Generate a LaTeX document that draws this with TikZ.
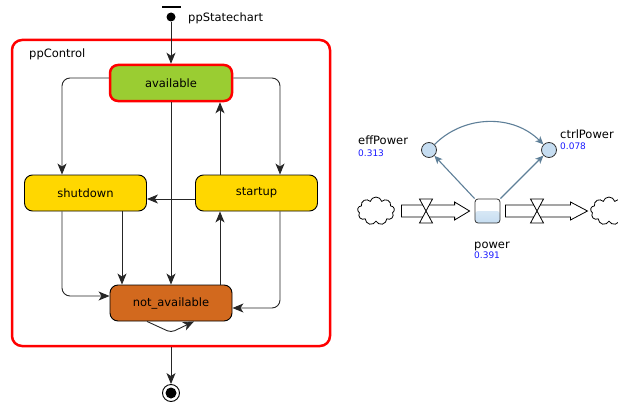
\documentclass[tikz,border=0pt]{standalone}
\usepackage{fontspec}
\setmainfont{DejaVu Sans}
\usetikzlibrary{arrows.meta, positioning, shapes.symbols}

\definecolor{stategreen}{HTML}{9ACD32}
\definecolor{stategold}{HTML}{FFD700}
\definecolor{statebrown}{HTML}{D2691E}
\definecolor{sdline}{HTML}{5E7F98}
\definecolor{sdfill}{HTML}{C6DDF1}
\definecolor{sdblue}{HTML}{1A1AFF}

\begin{document}
\begin{tikzpicture}[
    x=1pt, y=-1pt,
    every node/.style={font=\fontsize{11.5}{13}\selectfont},
    state/.style={rectangle, rounded corners=8pt, draw, line width=0.9pt, minimum width=122pt, minimum height=36pt, inner sep=0pt},
    container/.style={rectangle, rounded corners=10pt, draw=red, line width=2.5pt, minimum width=318pt, minimum height=306pt},
    trans/.style={-{Stealth[length=11pt,width=9pt,inset=3pt]}, line width=0.9pt, draw=black!85},
    aux/.style={circle, draw=black!80, fill=sdfill, line width=0.8pt, minimum size=15pt, inner sep=0pt},
    stockbox/.style={rectangle, rounded corners=3pt, draw=black!80, line width=0.8pt, minimum width=25pt, minimum height=24pt, inner sep=0pt,
        path picture={\shade[top color=sdfill!40, bottom color=sdfill] (path picture bounding box.west) rectangle (path picture bounding box.south east);}},
    link/.style={-{Stealth[length=8pt,width=7pt,inset=2pt]}, draw=sdline, line width=1.1pt},
    tag/.style={anchor=base west, inner sep=0pt},
    value/.style={font=\fontsize{9}{10}\selectfont, text=sdblue, anchor=base west, inner sep=0pt},
    pipe/.style={draw, line width=0.8pt, fill=white},
    valvebox/.style={draw, line width=0.8pt, fill=white},
    source/.style={cloud, cloud puffs=9, draw, line width=0.8pt, minimum width=37pt, minimum height=28pt}
]
\useasboundingbox (0,0) rectangle (618,404);

% Statechart
\node[rectangle, fill, minimum width=19pt, minimum height=2pt, inner sep=0pt] (initBar) at (171.5,7) {};
\node[circle, fill, minimum size=9pt, inner sep=0pt] (init) at (171,17) {};
\node[tag] (chartName) at (188,22) {ppStatechart};
\node[container] (ppControl) at (171,193) {};
\node[tag] (ppControlName) at (29,58) {ppControl};

\node[state, fill=stategreen, draw=red, line width=2.5pt] (available) at (171,83) {available};
\node[state, fill=stategold] (shutdown) at (85.5,193) {shutdown};
\node[state, fill=stategold] (startup) at (256.5,193) {startup};
\node[state, fill=statebrown] (not_available) at (171,303) {not\_available};

\node[circle, draw, line width=0.9pt, minimum size=17pt, inner sep=0pt] (final) at (171,393) {};
\fill (final.center) circle (5.5);

% Transitions
\draw[trans] (init) -- (available);
\draw[trans, rounded corners=8pt] ([yshift=5pt]available.west) -| ([xshift=-23.5pt]shutdown.north);
\draw[trans, rounded corners=8pt] ([yshift=5pt]available.east) -| ([xshift=23.5pt]startup.north);
\draw[trans] (available) -- (not_available);
\draw[trans] ([xshift=-36.5pt]startup.north) -- ([xshift=-36.5pt]startup.north |- available.south);
\draw[trans] ([yshift=-6pt]startup.west) -- ([yshift=-6pt]shutdown.east);
\draw[trans, rounded corners=8pt] ([xshift=-23.5pt]shutdown.south) |- ([yshift=7pt]not_available.west);
\draw[trans] ([xshift=36.5pt]shutdown.south) -- ([xshift=36.5pt]shutdown.south |- not_available.north);
\draw[trans] ([xshift=-36.5pt]startup.south |- not_available.north) -- ([xshift=-36.5pt]startup.south);
\draw[trans, rounded corners=8pt] ([xshift=23.5pt]startup.south) |- ([yshift=-5pt]not_available.east);
\draw[trans, rounded corners=4pt] ([xshift=-24pt]not_available.south) -- ++(24,11) -- ([xshift=23pt]not_available.south);
\draw[trans] (ppControl.south) -- (final);

% Stock and flow
\node[aux] (effPower) at (429,150) {};
\node[aux] (ctrlPower) at (549,150) {};
\node[tag] (effPowerName) at (358,144) {effPower};
\node[value] (effPowerValue) at (358,156) {0.313};
\node[tag] (ctrlPowerName) at (560,138) {ctrlPower};
\node[value] (ctrlPowerValue) at (560,149) {0.078};

\node[source] (cloudL) at (376,211) {};
\node[source] (cloudR) at (609,211) {};
\node[stockbox] (stock) at (487.5,211) {};
\node[tag] (powerName) at (474,248) {power};
\node[value] (powerValue) at (474,258) {0.391};

\draw[pipe] ([shift={(7,-6)}]cloudL.east) -- ([shift={(-20,-6)}]stock.west) -- ([shift={(-20,-9)}]stock.west)
    -- ([xshift=-5pt]stock.west) -- ([shift={(-20,9)}]stock.west) -- ([shift={(-20,6)}]stock.west)
    -- ([shift={(7,6)}]cloudL.east) -- cycle;
\draw[pipe] ([shift={(5,-6)}]stock.east) -- ([shift={(-20,-6)}]cloudR.west) -- ([shift={(-20,-9)}]cloudR.west)
    -- ([xshift=-3pt]cloudR.west) -- ([shift={(-20,9)}]cloudR.west) -- ([shift={(-20,6)}]cloudR.west)
    -- ([shift={(5,6)}]stock.east) -- cycle;

\coordinate (valveL) at (426,211);
\coordinate (valveR) at (537,211);
\foreach \v in {valveL, valveR}
    \draw[valvebox] (\v) -- ++(-6.5,-12) -- ++(13,0) -- cycle (\v) -- ++(-6.5,12) -- ++(13,0) -- cycle;

% Links
\draw[link] (stock.north west) -- (effPower);
\draw[link] (stock.north east) -- (ctrlPower);
\draw[link] (effPower) to[bend left=45] (ctrlPower);

\end{tikzpicture}
\end{document}
